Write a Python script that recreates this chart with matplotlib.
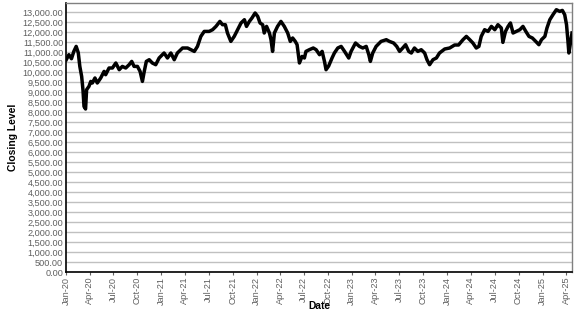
"""
Closing level time series, Jan 2020 - Apr 2025
"""

import matplotlib
matplotlib.use('Agg')
import matplotlib.pyplot as plt
import matplotlib.dates as mdates
import matplotlib.ticker as mticker
import numpy as np
import datetime

dates = ['2020-01-02', '2020-01-12', '2020-01-22', '2020-01-31', '2020-02-09', '2020-02-17',
         '2020-02-23', '2020-03-01', '2020-03-06', '2020-03-10', '2020-03-16', '2020-03-20',
         '2020-03-29', '2020-04-05', '2020-04-11', '2020-04-21', '2020-04-30', '2020-05-13',
         '2020-05-26', '2020-06-01', '2020-06-14', '2020-06-27', '2020-07-10', '2020-07-23',
         '2020-08-04', '2020-08-17', '2020-08-30', '2020-09-09', '2020-09-18', '2020-10-01',
         '2020-10-11', '2020-10-20', '2020-10-27', '2020-11-04', '2020-11-15', '2020-11-27',
         '2020-12-10', '2020-12-23', '2021-01-11', '2021-01-24', '2021-02-06', '2021-02-19',
         '2021-03-03', '2021-03-23', '2021-04-11', '2021-04-24', '2021-05-07', '2021-05-19',
         '2021-06-01', '2021-06-14', '2021-07-03', '2021-07-16', '2021-07-29', '2021-08-13',
         '2021-08-23', '2021-09-03', '2021-09-11', '2021-09-24', '2021-10-07', '2021-10-20',
         '2021-11-02', '2021-11-15', '2021-11-23', '2021-12-04', '2021-12-14', '2021-12-26',
         '2022-01-05', '2022-01-14', '2022-01-24', '2022-01-30', '2022-02-08', '2022-02-19',
         '2022-02-25', '2022-03-03', '2022-03-10', '2022-03-22', '2022-04-04', '2022-04-17',
         '2022-04-30', '2022-05-10', '2022-05-19', '2022-05-29', '2022-06-05', '2022-06-14',
         '2022-06-24', '2022-07-03', '2022-07-09', '2022-07-22', '2022-08-06', '2022-08-17',
         '2022-08-30', '2022-09-09', '2022-09-18', '2022-09-24', '2022-10-04', '2022-10-17',
         '2022-10-26', '2022-11-08', '2022-11-21', '2022-12-04', '2022-12-20', '2022-12-29',
         '2023-01-15', '2023-01-30', '2023-02-12', '2023-02-25', '2023-03-07', '2023-03-13',
         '2023-03-22', '2023-04-04', '2023-04-23', '2023-05-13', '2023-05-25', '2023-06-10',
         '2023-06-22', '2023-07-03', '2023-07-15', '2023-07-26', '2023-08-07', '2023-08-17',
         '2023-08-29', '2023-09-11', '2023-09-24', '2023-10-07', '2023-10-16', '2023-10-26',
         '2023-11-08', '2023-11-21', '2023-12-03', '2023-12-23', '2024-01-11', '2024-01-30',
         '2024-02-14', '2024-03-02', '2024-03-15', '2024-03-28', '2024-04-09', '2024-04-22',
         '2024-05-02', '2024-05-11', '2024-05-24', '2024-06-06', '2024-06-19', '2024-07-02',
         '2024-07-14', '2024-07-27', '2024-08-02', '2024-08-12', '2024-08-22', '2024-08-31',
         '2024-09-10', '2024-09-23', '2024-10-06', '2024-10-18', '2024-10-29', '2024-11-10',
         '2024-11-23', '2024-12-06', '2024-12-18', '2024-12-28', '2025-01-10', '2025-01-18',
         '2025-01-29', '2025-02-10', '2025-02-23', '2025-03-08', '2025-03-18', '2025-03-27',
         '2025-04-03', '2025-04-08', '2025-04-12', '2025-04-18', '2025-04-24']

closing = [10615, 10865, 10665, 11030, 11280, 10965,
           10280, 9780, 9115, 8280, 8150, 9115,
           9280, 9530, 9450, 9700, 9450, 9700,
           10030, 9865, 10200, 10200, 10450, 10115,
           10280, 10200, 10365, 10530, 10280, 10280,
           10030, 9530, 10030, 10530, 10615, 10450,
           10365, 10700, 10950, 10700, 10950, 10615,
           10950, 11200, 11200, 11115, 11030, 11280,
           11780, 12030, 12030, 12115, 12280, 12530,
           12365, 12365, 11950, 11530, 11780, 12115,
           12450, 12615, 12280, 12530, 12700, 12950,
           12780, 12450, 12365, 11950, 12280, 11950,
           11615, 11030, 11950, 12280, 12530, 12280,
           11950, 11530, 11700, 11530, 11365, 10450,
           10780, 10700, 11030, 11115, 11200, 11115,
           10865, 11030, 10530, 10115, 10300, 10700,
           10950, 11200, 11280, 11030, 10700, 11030,
           11450, 11280, 11200, 11280, 10865, 10530,
           10950, 11280, 11530, 11615, 11530, 11450,
           11280, 11030, 11200, 11365, 11030, 10950,
           11200, 11030, 11115, 10950, 10615, 10365,
           10615, 10700, 10950, 11150, 11200, 11350,
           11350, 11615, 11780, 11615, 11450, 11200,
           11280, 11780, 12115, 12030, 12280, 12115,
           12365, 12200, 11480, 12030, 12280, 12450,
           11950, 12030, 12115, 12280, 12030, 11780,
           11700, 11530, 11365, 11615, 11780, 12200,
           12615, 12865, 13115, 13030, 13080, 12865,
           12365, 11615, 10950, 11450, 11950]

y_ticks = np.arange(0, 13000 + 500, 500)
x_ticks = ['2020-01-01', '2020-04-01', '2020-07-01', '2020-10-01',
           '2021-01-01', '2021-04-01', '2021-07-01', '2021-10-01',
           '2022-01-01', '2022-04-01', '2022-07-01', '2022-10-01',
           '2023-01-01', '2023-04-01', '2023-07-01', '2023-10-01',
           '2024-01-01', '2024-04-01', '2024-07-01', '2024-10-01',
           '2025-01-01', '2025-04-01']


def to_dt(s):
    return datetime.datetime.strptime(s, '%Y-%m-%d')


def main():
    plt.rcParams['font.family'] = ['Liberation Sans', 'DejaVu Sans']

    fig = plt.figure(figsize=(5.77, 3.16), dpi=100)
    ax = fig.add_axes([66/577., 1 - 272/316., (572 - 66)/577., (272 - 3)/316.])

    x = [to_dt(d) for d in dates]
    ax.plot(x, closing, color='black', lw=2.5, solid_joinstyle='round', zorder=3)

    ax.set_ylim(0, 13450)
    ax.set_yticks(y_ticks)
    ax.yaxis.set_major_formatter(mticker.FuncFormatter(lambda v, p: '{:,.2f}'.format(v)))
    ax.yaxis.grid(True, color='#c0c0c0', lw=1)
    ax.set_axisbelow(True)

    ax.set_xlim(to_dt('2020-01-01'), to_dt('2025-04-24'))
    ax.set_xticks([to_dt(d) for d in x_ticks])
    ax.xaxis.set_major_formatter(mdates.DateFormatter('%b-%y'))
    plt.setp(ax.get_xticklabels(), rotation=90, ha='center', va='top')

    ax.tick_params(axis='y', length=0, pad=2, labelsize=6.6, labelcolor='#606060')
    ax.tick_params(axis='x', length=2, width=0.8, color='#606060', pad=1.5,
                   labelsize=6.6, labelcolor='#606060')

    for side in ['left', 'bottom']:
        ax.spines[side].set_color('black')
        ax.spines[side].set_linewidth(1.2)
    for side in ['top', 'right']:
        ax.spines[side].set_color('#808080')
        ax.spines[side].set_linewidth(1)

    ax.set_ylabel('Closing Level', fontsize=7.4, fontweight='bold')
    ax.set_xlabel('Date', fontsize=7.4, fontweight='bold')
    ax.yaxis.set_label_coords(-0.095, 0.5)
    ax.xaxis.set_label_coords(0.5, -0.108)

    fig.savefig('out.png', dpi=100)


if __name__ == '__main__':
    main()
